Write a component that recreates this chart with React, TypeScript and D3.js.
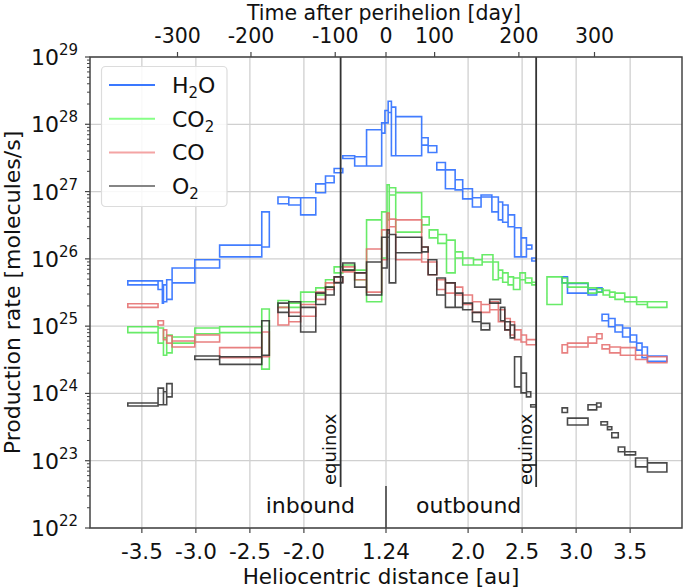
import React from "react";
import * as d3 from "d3";

// Each bin: [start distance, end distance, lower rate, upper rate]
// distance in au, signed: negative = inbound, positive = outbound
type Bin = [number, number, number, number];

const h2oBins: Bin[] = [
  [-3.63, -3.35, 4.1e25, 4.7e25], [-3.35, -3.31, 3.5e25, 4.7e25], [-3.31, -3.30, 2.2e25, 3.7e25],
  [-3.30, -3.27, 2.3e25, 4.1e25], [-3.27, -3.22, 2.5e25, 4.9e25], [-3.22, -3.01, 4.4e25, 7.3e25],
  [-3.01, -2.78, 7.3e25, 9.7e25], [-2.78, -2.39, 1.07e26, 1.6e26], [-2.39, -2.32, 1.5e26, 5.0e26],
  [-2.24, -2.14, 6.6e26, 8.3e26], [-2.14, -2.03, 6.3e26, 8.1e26], [-2.03, -1.89, 4.5e26, 8.1e26],
  [-1.89, -1.80, 9.6e26, 1.3e27], [-1.80, -1.72, 1.35e27, 1.7e27], [-1.72, -1.64, 1.9e27, 2.2e27],
  [-1.64, -1.53, 3.1e27, 3.4e27], [-1.53, -1.42, 2.4e27, 3.3e27], [-1.42, -1.28, 2.4e27, 8.3e27],
  [-1.28, -1.25, 7.4e27, 1.05e28], [-1.25, 1.26, 1.05e28, 1.6e28], [1.26, 1.29, 1.5e28, 2.2e28],
  [1.29, 1.33, 3.4e27, 1.8e28], [1.33, 1.57, 3.4e27, 1.3e28], [1.57, 1.63, 4.9e27, 6.3e27],
  [1.63, 1.71, 3.8e27, 4.8e27], [1.71, 1.79, 2.1e27, 2.7e27], [1.79, 1.88, 1.1e27, 2.1e27],
  [1.88, 1.95, 1.06e27, 1.5e27], [1.95, 2.04, 7.8e26, 1.1e27], [2.04, 2.12, 5.9e26, 8.1e26],
  [2.12, 2.22, 8.3e26, 8.9e26], [2.22, 2.28, 5.0e26, 8.3e26], [2.28, 2.32, 3.8e26, 7.0e26],
  [2.32, 2.37, 3.5e26, 6.3e26], [2.37, 2.43, 3.0e26, 4.5e26], [2.43, 2.49, 1.07e26, 2.9e26],
  [2.49, 2.54, 1.07e26, 2.05e26], [2.54, 2.59, 1.4e26, 1.6e26], [2.59, 2.63, 9.3e25, 1.03e26],
  [2.87, 2.92, 4.4e25, 5.4e25], [2.92, 3.11, 3.1e25, 4.3e25], [3.11, 3.19, 2.9e25, 3.5e25],
  [3.19, 3.24, 3.2e25, 3.7e25], [3.24, 3.30, 1.2e25, 1.5e25], [3.30, 3.36, 9.8e24, 1.3e25],
  [3.36, 3.43, 8.2e24, 1.04e25], [3.43, 3.50, 6.9e24, 9.4e24], [3.50, 3.56, 5.8e24, 7.4e24],
  [3.56, 3.61, 4.4e24, 5.6e24], [3.61, 3.66, 3.4e24, 4.9e24], [3.66, 3.84, 3.0e24, 3.6e24],
];

const co2Bins: Bin[] = [
  [-3.63, -3.35, 8.0e24, 9.8e24], [-3.35, -3.30, 5.6e24, 9.4e24], [-3.30, -3.27, 3.7e24, 6.7e24],
  [-3.27, -3.22, 4.0e24, 7.4e24], [-3.22, -3.01, 5.6e24, 6.9e24], [-3.01, -2.78, 7.7e24, 9.4e24],
  [-2.78, -2.39, 8.0e24, 9.8e24], [-2.39, -2.32, 2.3e24, 1.8e25],
  [-2.24, -2.14, 1.9e25, 2.4e25], [-2.14, -2.03, 1.9e25, 2.2e25], [-2.03, -1.89, 2.3e25, 3.2e25],
  [-1.89, -1.80, 2.9e25, 3.7e25], [-1.80, -1.72, 3.8e25, 4.9e25], [-1.72, -1.64, 6.2e25, 7.6e25],
  [-1.64, -1.53, 6.8e25, 8.1e25], [-1.53, -1.42, 4.9e25, 6.8e25], [-1.42, -1.28, 2.3e25, 3.8e26],
  [-1.28, 1.25, 1.03e26, 5.0e26], [1.25, 1.27, 3.8e26, 1.26e27], [1.27, 1.33, 8.9e26, 1.14e27],
  [1.33, 1.57, 2.5e26, 9.6e26], [1.57, 1.64, 3.2e26, 4.2e26], [1.64, 1.72, 2.05e26, 2.7e26],
  [1.72, 1.80, 1.7e26, 2.3e26], [1.80, 1.88, 6.2e25, 1.9e26], [1.88, 1.95, 1.03e26, 1.27e26],
  [1.95, 2.05, 8.1e25, 1.03e26], [2.05, 2.13, 8.1e25, 9.7e25], [2.13, 2.23, 9.0e25, 1.15e26],
  [2.23, 2.28, 4.9e25, 9.0e25], [2.28, 2.32, 5.2e25, 6.8e25], [2.32, 2.37, 4.5e25, 6.2e25],
  [2.37, 2.42, 4.1e25, 5.4e25], [2.42, 2.48, 3.5e25, 5.2e25], [2.48, 2.53, 4.9e25, 6.2e25],
  [2.53, 2.59, 4.4e25, 5.2e25], [2.59, 2.63, 4.1e25, 4.5e25],
  [2.73, 2.87, 2.1e25, 5.4e25], [2.87, 2.92, 4.4e25, 5.2e25], [2.92, 3.11, 3.8e25, 4.4e25],
  [3.11, 3.19, 3.1e25, 3.7e25], [3.19, 3.25, 3.2e25, 3.6e25], [3.25, 3.31, 2.9e25, 3.4e25],
  [3.31, 3.36, 2.7e25, 3.2e25], [3.36, 3.45, 2.5e25, 3.1e25], [3.45, 3.56, 2.3e25, 2.7e25],
  [3.56, 3.66, 2.1e25, 2.3e25], [3.66, 3.84, 1.9e25, 2.3e25],
];

const coBins: Bin[] = [
  [-3.63, -3.35, 1.9e25, 2.15e25], [-3.35, -3.30, 1.04e25, 1.2e25], [-3.30, -3.27, 6.3e24, 8.8e24],
  [-3.27, -3.22, 5.6e24, 7.2e24], [-3.22, -3.01, 4.9e24, 6.0e24], [-3.01, -2.78, 5.8e24, 7.4e24],
  [-2.78, -2.39, 3.4e24, 4.8e24], [-2.39, -2.32, 3.5e24, 8.2e24],
  [-2.24, -2.14, 1.04e25, 1.9e25], [-2.14, -2.03, 1.16e25, 1.6e25], [-2.03, -1.89, 1.4e25, 2.1e25],
  [-1.89, -1.80, 2.5e25, 3.2e25], [-1.80, -1.72, 3.5e25, 4.4e25], [-1.72, -1.64, 4.5e25, 5.4e25],
  [-1.64, -1.53, 6.4e25, 7.6e25], [-1.53, -1.42, 4.9e25, 6.2e25], [-1.42, -1.28, 3.2e25, 1.4e26],
  [-1.28, 1.25, 9.7e25, 2.7e26], [1.25, 1.27, 2.4e26, 4.8e26], [1.27, 1.33, 3.0e26, 3.9e26],
  [1.33, 1.57, 9.7e25, 3.8e26], [1.57, 1.63, 9.0e25, 1.5e26], [1.63, 1.71, 5.8e25, 9.0e25],
  [1.71, 1.79, 3.5e25, 4.9e25], [1.79, 1.88, 3.1e25, 4.4e25], [1.88, 1.95, 2.9e25, 3.8e25],
  [1.95, 2.04, 2.1e25, 2.9e25], [2.04, 2.12, 1.6e25, 2.3e25], [2.12, 2.20, 1.6e25, 2.1e25],
  [2.20, 2.28, 1.75e25, 2.3e25], [2.28, 2.34, 1.16e25, 1.75e25], [2.34, 2.39, 8.8e24, 1.3e25],
  [2.39, 2.43, 7.4e24, 1.16e25], [2.43, 2.49, 6.3e24, 8.8e24], [2.49, 2.54, 5.8e24, 7.4e24],
  [2.54, 2.63, 5.3e24, 6.3e24],
  [2.87, 2.92, 4.0e24, 5.3e24], [2.92, 3.11, 4.9e24, 5.6e24], [3.11, 3.19, 5.6e24, 6.9e24],
  [3.19, 3.24, 6.5e24, 7.7e24], [3.24, 3.31, 4.6e24, 5.3e24], [3.31, 3.41, 4.0e24, 4.9e24],
  [3.41, 3.55, 3.7e24, 4.8e24], [3.55, 3.66, 3.2e24, 3.7e24], [3.66, 3.84, 2.85e24, 3.5e24],
];

const o2Bins: Bin[] = [
  [-3.63, -3.35, 6.5e23, 7.2e23], [-3.35, -3.30, 6.8e23, 1.2e24], [-3.30, -3.27, 6.8e23, 1.06e24],
  [-3.27, -3.22, 8.9e23, 1.4e24],
  [-3.01, -2.78, 3.2e24, 3.6e24], [-2.78, -2.39, 2.7e24, 3.5e24], [-2.39, -2.32, 3.7e24, 1.2e25],
  [-2.24, -2.14, 1.6e25, 2.2e25], [-2.14, -2.03, 1.4e25, 2.3e25], [-2.03, -1.89, 8.2e24, 1.9e25],
  [-1.89, -1.80, 2.1e25, 3.1e25], [-1.80, -1.72, 2.9e25, 3.8e25], [-1.72, -1.64, 4.4e25, 5.4e25],
  [-1.64, -1.53, 6.8e25, 8.7e25], [-1.53, -1.42, 3.8e25, 6.2e25], [-1.42, -1.28, 2.9e25, 9.0e25],
  [-1.28, 1.25, 7.3e25, 2.1e26], [1.25, 1.27, 2.1e26, 2.7e26], [1.27, 1.33, 4.4e25, 2.3e26],
  [1.33, 1.57, 1.23e26, 2.1e26], [1.57, 1.63, 1.27e26, 1.5e26], [1.63, 1.71, 5.8e25, 9.7e25],
  [1.71, 1.79, 2.9e25, 5.2e25], [1.79, 1.88, 1.9e25, 4.4e25], [1.88, 1.95, 1.9e25, 3.1e25],
  [1.95, 2.04, 1.75e25, 2.2e25], [2.04, 2.12, 1.16e25, 1.6e25], [2.12, 2.20, 8.8e24, 1.1e25],
  [2.20, 2.30, 2.2e25, 2.5e25], [2.30, 2.34, 1.2e25, 1.9e25], [2.34, 2.39, 8.8e24, 1.16e25],
  [2.39, 2.43, 6.7e24, 1.04e25], [2.43, 2.49, 1.25e24, 3.5e24], [2.49, 2.54, 1.02e24, 2.0e24],
  [2.54, 2.58, 8.9e23, 1.06e24], [2.58, 2.63, 6.3e23, 6.8e23],
  [2.87, 2.92, 5.2e23, 6.1e23], [2.92, 3.11, 3.4e23, 4.3e23], [3.11, 3.19, 5.7e23, 6.8e23],
  [3.19, 3.23, 6.3e23, 7.2e23], [3.23, 3.29, 3.4e23, 3.8e23], [3.29, 3.33, 2.9e23, 3.2e23],
  [3.33, 3.39, 2.2e23, 2.6e23], [3.39, 3.45, 1.36e23, 1.6e23], [3.45, 3.55, 1.22e23, 1.36e23],
  [3.55, 3.66, 8.1e22, 1.1e23], [3.66, 3.84, 6.8e22, 9.3e22],
];

const speciesNames = ["H2O", "CO2", "CO", "O2"];
const speciesBins = [h2oBins, co2Bins, coBins, o2Bins];
const speciesColors = ["#2166ff", "#4ee84e", "#e46a6a", "#2a2a2a"];
const legendColors = ["#3a78ff", "#86ff86", "#f4a4a4", "#858585"];
// legend label parts: [main, subscript, after]
const legendLabels: [string, string, string][] = [
  ["H", "2", "O"],
  ["CO", "2", ""],
  ["CO", "", ""],
  ["O", "2", ""],
];

const distanceTicks = [-3.5, -3.0, -2.5, -2.0, 1.24, 2.0, 2.5, 3.0, 3.5];
const distanceTickLabels = ["-3.5", "-3.0", "-2.5", "-2.0", "1.24", "2.0", "2.5", "3.0", "3.5"];
const timeTicks = [-300, -200, -100, 0, 100, 200, 300];
const timeTickDistance = [-3.17, -2.49, -1.71, 1.24, 1.69, 2.47, 3.17];
const yDecades = [22, 23, 24, 25, 26, 27, 28, 29];
const equinoxDistances = [-1.66, 2.63];
const PERIHELION = 1.24;

const W = 685;
const H = 588;
const M = { left: 90, right: 682, top: 57, bottom: 528 };
const FONT = "DejaVu Sans, sans-serif";

const toU = (r: number) => (r < 0 ? r + PERIHELION : r - PERIHELION);

export default function App() {
  const xs = d3.scaleLinear().domain([-2.74, 2.74]).range([M.left, M.right]);
  const X = (r: number) => xs(toU(r));
  const Y = d3.scaleLog().domain([1e22, 1e29]).range([M.bottom, M.top]);

  const minor: number[] = [];
  for (let k = 22; k < 29; k++) for (let m = 2; m <= 9; m++) minor.push(m * Math.pow(10, k));

  const binPath = (bins: Bin[]) => {
    const p = d3.path();
    bins.forEach(([r0, r1, lo, hi]) => {
      const x0 = X(r0), x1 = X(r1), y0 = Y(hi), y1 = Y(lo);
      p.rect(x0, y0, x1 - x0, y1 - y0);
    });
    return p.toString();
  };

  const eqBottom = 487;

  return (
    <svg width={W} height={H} style={{ position: "absolute", left: 0, top: 0, background: "#fff" }} fontFamily={FONT}>
      {/* grid */}
      <g stroke="#d0d0d0" strokeWidth={1.3}>
        {distanceTicks.map((t) => (
          <line key={"gx" + t} x1={X(t)} x2={X(t)} y1={M.top} y2={M.bottom} />
        ))}
        {yDecades.map((k) => (
          <line key={"gy" + k} x1={M.left} x2={M.right} y1={Y(Math.pow(10, k))} y2={Y(Math.pow(10, k))} />
        ))}
      </g>

      {/* data */}
      <g fill="none" strokeWidth={1.6} strokeLinejoin="miter">
        {speciesBins.map((bins, i) => (
          <path key={speciesNames[i]} d={binPath(bins)} stroke={speciesColors[i]} strokeOpacity={0.85} />
        ))}
      </g>

      {/* equinox lines */}
      {equinoxDistances.map((r) => (
        <g key={"eq" + r}>
          <line x1={X(r)} x2={X(r)} y1={M.top} y2={eqBottom} stroke="#333" strokeWidth={1.8} />
          <text
            transform={`translate(${X(r) - 4.5},${eqBottom - 2}) rotate(-90)`}
            fontSize={18}
            fill="#111"
          >
            equinox
          </text>
        </g>
      ))}

      {/* perihelion divider */}
      <line x1={X(PERIHELION)} x2={X(PERIHELION)} y1={486} y2={M.bottom} stroke="#444" strokeWidth={1.6} />
      <text x={X(PERIHELION) - 31} y={513} fontSize={22} textAnchor="end" fill="#111">inbound</text>
      <text x={X(PERIHELION) + 30} y={513} fontSize={22} textAnchor="start" fill="#111">outbound</text>

      {/* frame */}
      <rect x={M.left} y={M.top} width={M.right - M.left} height={M.bottom - M.top} fill="none" stroke="#444" strokeWidth={1.5} />

      {/* bottom axis */}
      <g>
        {distanceTicks.map((t, i) => (
          <g key={"bt" + t}>
            <line x1={X(t)} x2={X(t)} y1={M.bottom} y2={M.bottom + 5} stroke="#444" strokeWidth={1.2} />
            <text x={X(t)} y={559} fontSize={21.5} textAnchor="middle" fill="#111">{distanceTickLabels[i]}</text>
          </g>
        ))}
        <text x={(M.left + M.right) / 2 - 5} y={584} fontSize={21.5} textAnchor="middle" fill="#111">
          Heliocentric distance [au]
        </text>
      </g>

      {/* top axis */}
      <g>
        {timeTicks.map((t, i) => (
          <g key={"tt" + t}>
            <line x1={X(timeTickDistance[i])} x2={X(timeTickDistance[i])} y1={M.top} y2={M.top - 5} stroke="#444" strokeWidth={1.2} />
            <text x={X(timeTickDistance[i])} y={43} fontSize={20.5} textAnchor="middle" fill="#111">{String(t)}</text>
          </g>
        ))}
        <text x={384} y={19.5} fontSize={20.5} textAnchor="middle" fill="#111">Time after perihelion [day]</text>
      </g>

      {/* left axis */}
      <g>
        {minor.map((v) => (
          <line key={"mn" + v} x1={M.left} x2={M.left - 3} y1={Y(v)} y2={Y(v)} stroke="#444" strokeWidth={1} />
        ))}
        {yDecades.map((k) => (
          <g key={"yt" + k}>
            <line x1={M.left} x2={M.left - 5} y1={Y(Math.pow(10, k))} y2={Y(Math.pow(10, k))} stroke="#444" strokeWidth={1.2} />
            <text x={78} y={Y(Math.pow(10, k)) + 8} fontSize={22} textAnchor="end" fill="#111">
              10<tspan fontSize={15} dy={-10}>{k}</tspan>
            </text>
          </g>
        ))}
        <text
          transform={`translate(20,${(M.top + M.bottom) / 2}) rotate(-90)`}
          fontSize={22}
          textAnchor="middle"
          fill="#111"
        >
          Production rate [molecules/s]
        </text>
      </g>

      {/* legend */}
      <g>
        <rect x={101.5} y={66.5} width={125.5} height={140} rx={4} fill="#fff" fillOpacity={0.85} stroke="#dcdcdc" strokeWidth={1.2} />
        {speciesNames.map((n, i) => {
          const y = 85 + i * 33.7;
          const [a, s, b] = legendLabels[i];
          return (
            <g key={"lg" + n}>
              <line x1={109} x2={155} y1={y} y2={y} stroke={legendColors[i]} strokeWidth={2} />
              <text x={172} y={y + 8} fontSize={22} fill="#111">
                {a}
                {s ? <tspan fontSize={15} dy={5}>{s}</tspan> : null}
                {b ? <tspan dy={-5}>{b}</tspan> : null}
              </text>
            </g>
          );
        })}
      </g>
    </svg>
  );
}
